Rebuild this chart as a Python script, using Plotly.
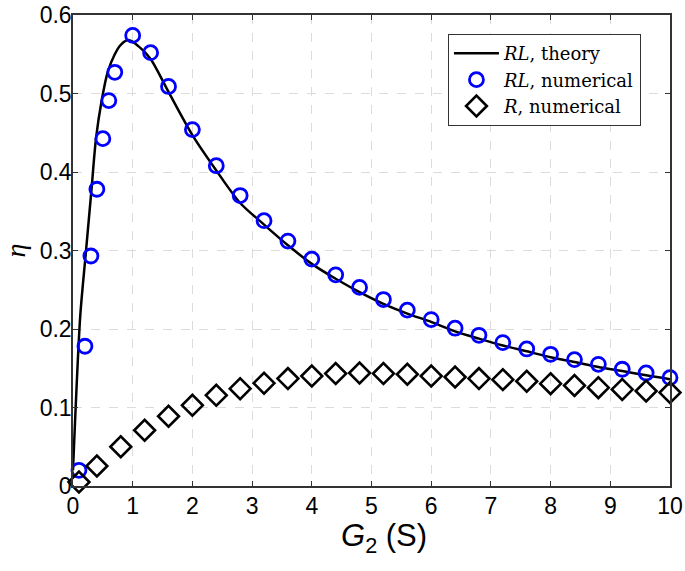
import plotly.graph_objects as go

# Theory curve (RL)
theory_x = [0.0, 0.12, 0.21, 0.31, 0.385, 0.48, 0.58, 0.7, 0.8, 0.93, 1.1, 1.3, 1.6, 2.0, 2.4, 2.8,
            3.2, 3.6, 4.0, 4.4, 4.8, 5.2, 5.6, 6.0, 6.4, 6.8, 7.2, 7.6, 8.0, 8.4, 8.8, 9.2, 9.6, 10.0]
theory_y = [0.02, 0.215, 0.293, 0.378, 0.4425, 0.491, 0.527, 0.550, 0.562, 0.568, 0.560, 0.544, 0.502,
            0.447, 0.402, 0.3605, 0.333, 0.3066, 0.283, 0.264, 0.247, 0.232, 0.2196, 0.209, 0.197,
            0.1877, 0.179, 0.1716, 0.164, 0.158, 0.1516, 0.1465, 0.141, 0.136]

# RL numerical
rl_x = [0.1, 0.2, 0.3, 0.4, 0.5, 0.6, 0.7, 1.0, 1.3, 1.6, 2.0, 2.4, 2.8, 3.2, 3.6, 4.0, 4.4, 4.8,
        5.2, 5.6, 6.0, 6.4, 6.8, 7.2, 7.6, 8.0, 8.4, 8.8, 9.2, 9.6, 10.0]
rl_y = [0.020, 0.178, 0.293, 0.378, 0.4425, 0.491, 0.527, 0.574, 0.552, 0.509, 0.454, 0.408, 0.370,
        0.338, 0.312, 0.289, 0.269, 0.253, 0.2375, 0.224, 0.212, 0.201, 0.192, 0.1827, 0.1746,
        0.1678, 0.161, 0.155, 0.1487, 0.144, 0.138]

# R numerical
r_x = [0.1, 0.4, 0.8, 1.2, 1.6, 2.0, 2.4, 2.8, 3.2, 3.6, 4.0, 4.4, 4.8, 5.2, 5.6, 6.0, 6.4, 6.8,
       7.2, 7.6, 8.0, 8.4, 8.8, 9.2, 9.6, 10.0]
r_y = [0.005, 0.0255, 0.050, 0.071, 0.0888, 0.1028, 0.1155, 0.124, 0.131, 0.1368, 0.140, 0.1432,
       0.144, 0.1432, 0.1423, 0.140, 0.1389, 0.1368, 0.1355, 0.1334, 0.1304, 0.128, 0.1253, 0.123,
       0.121, 0.119]

x_ticks = [0, 1, 2, 3, 4, 5, 6, 7, 8, 9, 10]
y_ticks = [0, 0.1, 0.2, 0.3, 0.4, 0.5, 0.6]
y_tick_labels = ["0", "0.1", "0.2", "0.3", "0.4", "0.5", "0.6"]

fig = go.Figure()
fig.add_trace(go.Scatter(x=theory_x, y=theory_y, mode="lines", cliponaxis=False,
                         line=dict(color="black", width=2.5, shape="spline", smoothing=0.8),
                         name="<i>RL</i>, theory"))
fig.add_trace(go.Scatter(x=rl_x, y=rl_y, mode="markers", cliponaxis=False,
                         marker=dict(symbol="circle-open", size=14, color="#0000FF", line=dict(width=2.8, color="#0000FF")),
                         name="<i>RL</i>, numerical"))
fig.add_trace(go.Scatter(x=r_x, y=r_y, mode="markers", cliponaxis=False,
                         marker=dict(symbol="diamond-open", size=16, color="black", line=dict(width=2.6, color="black")),
                         name="<i>R</i>, numerical"))

axis_common = dict(showline=True, linecolor="#333333", linewidth=1.5, mirror="ticks",
                   ticks="inside", ticklen=5, tickcolor="#333333", automargin=False,
                   ticklabeloverflow="allow",
                   showgrid=True, gridcolor="#dcdcdc", griddash="dash", gridwidth=1,
                   zeroline=False, tickfont=dict(family="Liberation Sans, Arial", size=23, color="black"))

fig.update_xaxes(range=[0, 10], tickvals=x_ticks, **axis_common, ticklabelstandoff=-1)
fig.update_yaxes(range=[0, 0.6], tickvals=y_ticks, ticktext=y_tick_labels, **axis_common, ticklabelstandoff=-5,
                 title=dict(text="<i>η</i>", font=dict(family="Liberation Serif, serif", size=28, color="black"),
                            standoff=52))

# x-axis title as a paper-anchored label (slightly right of centre, as in the reference)
fig.add_annotation(text="<i>G</i><sub>2</sub> (S)", xref="paper", yref="paper",
                   x=0.521, y=-0.063, xanchor="center", yanchor="top", showarrow=False,
                   font=dict(family="Liberation Sans, Arial", size=31, color="black"))

fig.update_layout(
    width=685, height=571,
    margin=dict(l=73, r=15, t=15, b=85),
    plot_bgcolor="white", paper_bgcolor="white",
    showlegend=True,
    legend=dict(x=0.951, y=0.96, xanchor="right", yanchor="top",
                bgcolor="white", bordercolor="#333333", borderwidth=1.2,
                font=dict(family="DejaVu Serif, serif", size=18, color="black"),
                tracegroupgap=0, itemwidth=45),
)

# remove the default 8px page margin so the figure sits at the window's top-left corner
fig.write_html("out.html", config={"displayModeBar": False},
               post_script="document.body.style.margin='0px';document.body.style.overflow='hidden';")
